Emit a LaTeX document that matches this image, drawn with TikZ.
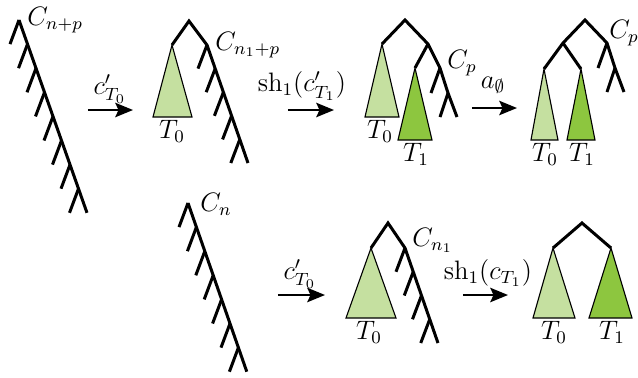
\documentclass[tikz,border=0pt]{standalone}
\usetikzlibrary{arrows.meta}
\definecolor{lightg}{RGB}{197,224,160}
\definecolor{darkg}{RGB}{141,198,63}
\tikzset{
  edge/.style={line width=1.35pt},
  sub0/.style={fill=lightg,draw=black,line width=0.5pt},
  sub1/.style={fill=darkg,draw=black,line width=0.5pt},
  arr/.style={line width=0.9pt,-{Stealth[length=8pt,width=6.5pt,inset=1.5pt]}},
  tlab/.style={anchor=north,inner sep=1.2pt},
  clab/.style={anchor=base west,inner sep=0pt},
}
\begin{document}
\begin{tikzpicture}[x=0.45pt,y=-0.45pt,every node/.style={font=\large}]
\useasboundingbox (0,0) rectangle (638,377);
% ---------- Tree 1: comb C_{n+p}
\draw[edge] (19,20) -- (87,212.8);
\foreach \k in {0,...,7} {\draw[edge] (19+8.5*\k,20+24.1*\k) -- ++(-9,24.1);}
\node[clab] (l1) at (27,25) {$C_{n+p}$};
% ---------- Tree 2
\draw[sub0] (172,45) -- (153,117) -- (192,117) -- cycle;
\draw[edge] (172,45) -- (189,21) -- (207,45) -- (248,163);
\foreach \k in {0,...,4} {\draw[edge] (207+8.2*\k,45+23.6*\k) -- ++(-9,23.6);}
\node[clab] (l2) at (215,50) {$C_{n_1+p}$};
\node[tlab] (t20) at (172,117) {$T_0$};
% ---------- Tree 3
\draw[sub0] (382,44) -- (365,117) -- (399,117) -- cycle;
\draw[sub1] (415,68) -- (398,140) -- (432,140) -- cycle;
\draw[edge] (382,44) -- (405,20) -- (428,44) -- (440,68) -- (448,93) -- (457,117);
\draw[edge] (428,44) -- (415,68);
\draw[edge] (440,68) -- (431,93);
\draw[edge] (448,93) -- (440,117);
\node[clab] (l3) at (447,68) {$C_p$};
\node[tlab] (t30) at (380,117) {$T_0$};
\node[tlab] (t31) at (416,140) {$T_1$};
% ---------- Tree 4
\draw[sub0] (544,69) -- (531,140) -- (558,140) -- cycle;
\draw[sub1] (581,69) -- (567,140) -- (595,140) -- cycle;
\draw[edge] (544,69) -- (563,43) -- (585,20) -- (607,43) -- (615,68) -- (624,92);
\draw[edge] (563,43) -- (581,69);
\draw[edge] (607,43) -- (598,68);
\draw[edge] (615,68) -- (607,92);
\node[clab] (l4) at (609,38) {$C_p$};
\node[tlab] (t40) at (545,140) {$T_0$};
\node[tlab] (t41) at (582,140) {$T_1$};
% ---------- Tree 5: comb C_n
\draw[edge] (188,203) -- (246.8,371.7);
\foreach \k in {0,...,6} {\draw[edge] (188+8.4*\k,203+24.1*\k) -- ++(-9,24.1);}
\node[clab] (l5) at (200,211) {$C_n$};
% ---------- Tree 6
\draw[sub0] (371,248) -- (346,318) -- (396,318) -- cycle;
\draw[edge] (371,248) -- (388,223) -- (405,248) -- (438,343);
\foreach \k in {0,...,3} {\draw[edge] (405+8.25*\k,248+23.75*\k) -- ++(-9,23.75);}
\node[clab] (l6) at (412,246) {$C_{n_1}$};
\node[tlab] (t60) at (369,318) {$T_0$};
% ---------- Tree 7
\draw[sub0] (553,248) -- (533,318) -- (575,318) -- cycle;
\draw[sub1] (611,248) -- (589,318) -- (632,318) -- cycle;
\draw[edge] (553,248) -- (582,223) -- (611,248);
\node[tlab] (t70) at (554,318) {$T_0$};
\node[tlab] (t71) at (612,318) {$T_1$};
% ---------- Arrows
\coordinate (a1s) at (88,110); \coordinate (a1e) at (133,110);
\coordinate (a2s) at (288,110); \coordinate (a2e) at (334,110);
\coordinate (a3s) at (472,108); \coordinate (a3e) at (517,108);
\coordinate (a4s) at (278,295); \coordinate (a4e) at (325,295);
\coordinate (a5s) at (463,295); \coordinate (a5e) at (508,295);
\draw[arr] (a1s) -- (a1e);
\draw[arr] (a2s) -- (a2e);
\draw[arr] (a3s) -- (a3e);
\draw[arr] (a4s) -- (a4e);
\draw[arr] (a5s) -- (a5e);
\node (m1) at (110,89) {$c'_{T_0}$};
\node (m2) at (302,86) {$\mathrm{sh}_1(c'_{T_1})$};
\node (m3) at (493,85) {$a_\emptyset$};
\node (m4) at (300,274) {$c'_{T_0}$};
\node (m5) at (488,273) {$\mathrm{sh}_1(c_{T_1})$};
\end{tikzpicture}
\end{document}
